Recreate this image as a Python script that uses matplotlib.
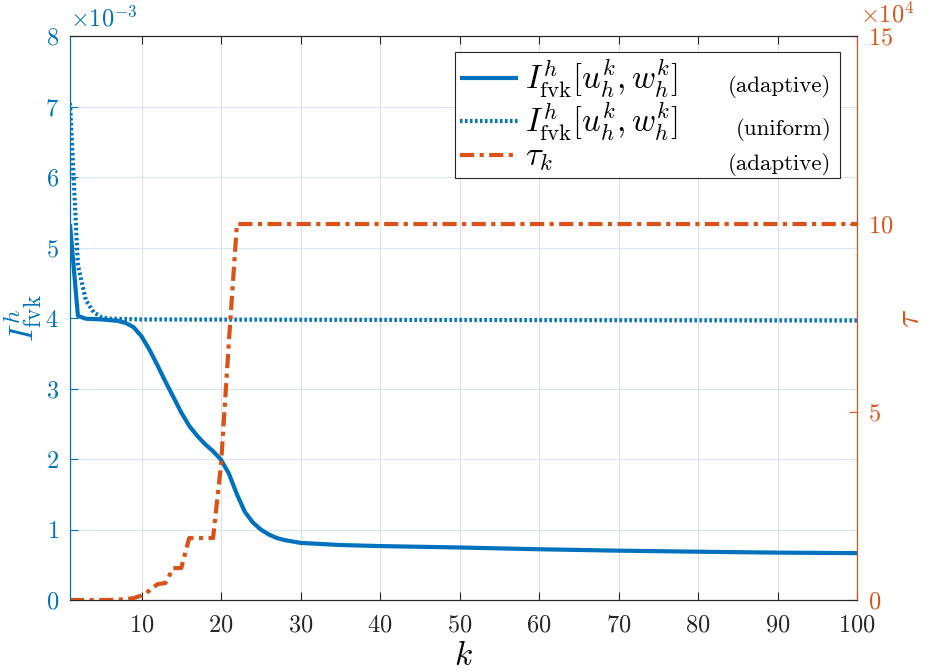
'''
Adaptive vs uniform energy and tau over iterations k (two y axes).
'''

import numpy as np
import matplotlib
matplotlib.use('Agg')
import matplotlib.pyplot as plt

plt.rcParams['font.family'] = 'serif'
plt.rcParams['font.serif'] = ['cmr10']
plt.rcParams['mathtext.fontset'] = 'cm'
plt.rcParams['axes.formatter.use_mathtext'] = True
plt.rcParams['axes.unicode_minus'] = True

#Colors (MATLAB default order)
blue = '#0072BD'
orange = '#D95319'

#Adaptive energy I_fvk (x 1e-3)
k_adapt = [1, 2, 3, 5, 7, 8, 9, 10, 11, 12, 13, 14, 15, 16, 17, 18, 19, 20,
           21, 22, 23, 24, 25, 26, 27, 28, 30, 35, 40, 50, 60, 70, 80, 90, 100]
I_adapt = [5.33, 4.03, 3.99, 3.98, 3.96, 3.93, 3.87, 3.74, 3.55, 3.33, 3.10,
           2.88, 2.66, 2.47, 2.33, 2.21, 2.11, 1.99, 1.79, 1.50, 1.25, 1.10,
           1.00, 0.93, 0.88, 0.85, 0.81, 0.78, 0.765, 0.745, 0.72, 0.70,
           0.685, 0.672, 0.665]

#Uniform energy I_fvk (x 1e-3)
k_unif = [1, 2, 3, 4, 5, 6, 10, 30, 60, 100]
I_unif = [7.05, 4.75, 4.25, 4.08, 4.01, 3.99, 3.98, 3.975, 3.97, 3.965]

#Adaptive tau_k (x 1e4)
k_tau = [1, 6, 7, 8, 9, 10, 11, 12, 13, 14, 15, 16, 17, 18, 19, 20, 21, 22, 100]
tau = [0.0, 0.0, 0.01, 0.02, 0.05, 0.12, 0.25, 0.42, 0.45, 0.85, 0.85,
       1.65, 1.65, 1.65, 1.65, 3.6, 6.9, 10.0, 10.0]

xticks = [10, 20, 30, 40, 50, 60, 70, 80, 90, 100]

fig = plt.figure(figsize=(9.28, 6.71), dpi=100)
ax1 = fig.add_axes([0.0754, 0.1058, 0.8481, 0.8405])
ax2 = ax1.twinx()

l1, = ax1.plot(k_adapt, np.array(I_adapt) * 1e-3, color=blue, lw=3.0,
               solid_capstyle='butt')
l2, = ax1.plot(k_unif, np.array(I_unif) * 1e-3, color=blue, lw=3.0,
               linestyle=(0, (0.6, 0.6)))
l3, = ax2.plot(k_tau, np.array(tau) * 1e4, color=orange, lw=3.0,
               linestyle=(0, (3.4, 1.3, 1.0, 1.3)))

#Axes limits and ticks
ax1.set_xlim(1, 100)
ax1.set_xticks(xticks)
ax1.set_ylim(0, 8e-3)
ax1.set_yticks(np.arange(0, 9) * 1e-3)
ax2.set_ylim(0, 15e4)
ax2.set_yticks([0, 5e4, 10e4, 15e4])
ax1.ticklabel_format(axis='y', style='sci', scilimits=(0, 0))
ax2.ticklabel_format(axis='y', style='sci', scilimits=(0, 0))
ax1.yaxis.get_major_formatter().set_powerlimits((-3, -3))
ax2.yaxis.get_major_formatter().set_powerlimits((4, 4))

ax1.tick_params(axis='x', direction='in', top=True, length=6, width=0.8,
                colors='0.15', labelsize=17.5, pad=10)
ax1.tick_params(axis='y', direction='in', length=6, width=0.8,
                colors=blue, labelsize=17.5, pad=8)
ax2.tick_params(axis='y', direction='in', length=6, width=0.8,
                colors=orange, labelsize=17.5, pad=8)

for a in (ax1, ax2):
    a.spines['top'].set_color('0.15')
    a.spines['bottom'].set_color('0.15')
    a.spines['left'].set_color(blue)
    a.spines['right'].set_color(orange)

#Exponent labels sit a bit higher, like MATLAB
ax1.yaxis.OFFSETTEXTPAD = 7
ax2.yaxis.OFFSETTEXTPAD = 10
off1 = ax1.yaxis.get_offset_text()
off1.set_color(blue)
off1.set_fontsize(17.5)
off2 = ax2.yaxis.get_offset_text()
off2.set_color(orange)
off2.set_fontsize(17.5)
off2.set_horizontalalignment('left')
off2.set_x(1.004)

#Grid
ax1.grid(True, axis='x', color='0.88', lw=0.8)
ax1.grid(True, axis='y', color='#d6e6f3', lw=0.8)
ax1.set_axisbelow(True)

#Labels
ax1.set_xlabel(r'$k$', fontsize=24, labelpad=4)
ax1.set_ylabel(r'$I^h_{\mathrm{fvk}}$', fontsize=24, color=blue)
ax1.yaxis.set_label_coords(-0.033, 0.5)
ax2.set_ylabel(r'$\tau$', fontsize=24, color=orange)
ax2.yaxis.set_label_coords(1.05, 0.5)

#Legend
labels = [r'$I^h_{\mathrm{fvk}}[u^k_h, w^k_h]$',
          r'$I^h_{\mathrm{fvk}}[u^k_h, w^k_h]$',
          r'$\tau_k$']
leg = ax2.legend([l1, l2, l3], labels, loc='upper left',
                 bbox_to_anchor=(0.489, 0.741, 0.489, 0.231), mode='expand',
                 fontsize=23.5, fancybox=False,
                 framealpha=1, edgecolor='0.15', handlelength=1.8,
                 handletextpad=0.2, borderpad=0.15, labelspacing=0.0,
                 borderaxespad=0)
leg.get_frame().set_linewidth(0.8)

fig.canvas.draw()
for txt, tag in zip(leg.get_texts(), ['(adaptive)', '(uniform)', '(adaptive)']):
    ax2.annotate(tag, xy=(1.0, 0.3), xycoords=(leg.get_frame(), txt),
                 xytext=(-6, 0), textcoords='offset points',
                 ha='right', va='center', fontsize=16.5, zorder=10)

plt.savefig('out.png', dpi=100)
plt.close()
